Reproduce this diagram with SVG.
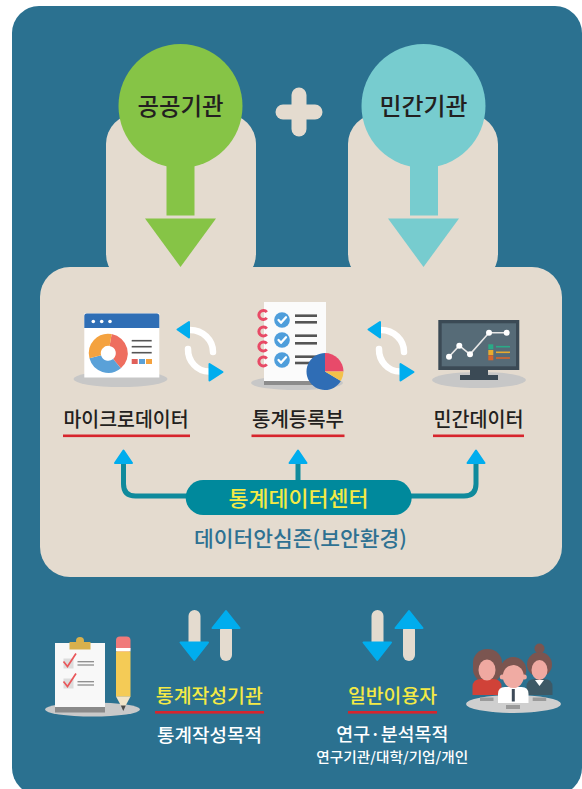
<svg xmlns="http://www.w3.org/2000/svg" width="582" height="789" viewBox="0 0 582 789">
<style>
  text { font-family: "Noto Sans CJK KR", "Noto Sans", sans-serif; font-weight: 500; text-anchor: middle; }
  .title { font-size: 24px; fill: #231f20; }
  .lbl { font-size: 20px; fill: #231f20; }
  .yel { font-size: 19px; fill: #f4ea45; }
  .wht { font-size: 18.5px; fill: #ffffff; }
  .ul { fill: #d7252d; }
  .beige { fill: #e4dbcf; }
  .sky { fill: #00adee; stroke: #00adee; stroke-width: 2; stroke-linejoin: round; }
  .conn { fill: none; stroke: #0f8a9c; stroke-width: 5; }
  .shadow { fill: #c7c7c7; }
  .cycle { fill: none; stroke: #ffffff; stroke-width: 6.5; stroke-linecap: round; }
  .gline { stroke: #555555; stroke-width: 2.6; }
</style>
<defs>
  <!-- two-way refresh arrows between the data sources -->
  <g id="cycle">
    <path class="cycle" d="M190,330 A23,22 0 0 1 213,352"/>
    <path class="cycle" d="M188,349 A21,22 0 0 0 209,371.5"/>
    <path class="sky" d="M177.5,329.5 L189,322 L189,337.5 Z"/>
    <path class="sky" d="M222.5,372 L209.5,364 L209.5,380.5 Z"/>
  </g>
  <!-- down / up exchange arrows -->
  <g id="updown">
    <rect class="beige" x="188.5" y="610" width="12" height="38" rx="6"/>
    <path class="sky" d="M180.5,642.5 L208,642.5 L194.3,660 Z"/>
    <rect class="beige" x="220" y="624" width="12" height="37" rx="6"/>
    <path class="sky" d="M212.5,628 L239.5,628 L226,611 Z"/>
  </g>
</defs>

<!-- frame -->
<rect x="12" y="6" width="570" height="789" rx="27" fill="#2b7190"/>

<!-- beige body -->
<rect class="beige" x="106" y="114" width="150" height="170" rx="30"/>
<rect class="beige" x="348" y="114" width="150" height="170" rx="30"/>
<rect class="beige" x="40" y="267" width="522" height="310" rx="30"/>

<!-- plus -->
<g id="plus" stroke="#e4dbcf" stroke-width="15" stroke-linecap="round">
  <line x1="283" y1="112" x2="315" y2="112"/>
  <line x1="299" y1="95" x2="299" y2="129"/>
</g>

<g id="public">
  <circle cx="180.5" cy="106" r="62" fill="#86c446"/>
  <rect x="166.5" y="160" width="28" height="55.5" fill="#86c446"/>
  <polygon points="145,218.5 216,218.5 180.5,267" fill="#86c446"/>
  <text class="title" x="180.5" y="115" textLength="86" lengthAdjust="spacingAndGlyphs">공공기관</text>
</g>

<g id="private">
  <circle cx="423.5" cy="106" r="62" fill="#77cccf"/>
  <rect x="410" y="160" width="28" height="55.5" fill="#77cccf"/>
  <polygon points="388,218.5 459,218.5 423.5,267" fill="#77cccf"/>
  <text class="title" x="423.5" y="115" textLength="88" lengthAdjust="spacingAndGlyphs">민간기관</text>
</g>

<g id="microdata">
  <ellipse class="shadow" cx="120.5" cy="379" rx="47" ry="8"/>
  <rect x="84.3" y="313.5" width="75" height="64" fill="#ffffff"/>
  <path d="M84.3,328 V316 a2.5,2.5 0 0 1 2.5,-2.5 H156.8 a2.5,2.5 0 0 1 2.5,2.5 V328 Z" fill="#2f6eb5"/>
  <circle cx="93.3" cy="321.5" r="1.8" fill="#fff"/>
  <circle cx="101.7" cy="321.5" r="1.8" fill="#fff"/>
  <circle cx="110" cy="321.5" r="1.8" fill="#fff"/>
  <g fill="none" stroke-width="12">
    <path d="M110.64,340 A13.5,13.5 0 0 1 116.98,363.64" stroke="#ee6e5f"/>
    <path d="M116.98,363.64 A13.5,13.5 0 0 1 95.26,356.79" stroke="#5aa1d8"/>
    <path d="M95.26,356.79 A13.5,13.5 0 0 1 110.64,340" stroke="#f4a23f"/>
  </g>
  <g stroke="#555" stroke-width="1.6">
    <line x1="131.7" y1="340.7" x2="151.7" y2="340.7"/>
    <line x1="131.7" y1="346.7" x2="151.7" y2="346.7"/>
    <line x1="131.7" y1="352.7" x2="151.7" y2="352.7"/>
  </g>
  <rect x="131.7" y="359" width="6" height="5" fill="#e0605a"/>
  <rect x="139" y="359" width="6" height="5" fill="#5aa1d8"/>
  <rect x="146" y="359" width="6" height="5" fill="#f4a23f"/>
  <text class="lbl" x="126" y="427" textLength="125" lengthAdjust="spacingAndGlyphs">마이크로데이터</text>
  <rect class="ul" x="63" y="434.5" width="127" height="2.6"/>
</g>

<g id="registry">
  <ellipse class="shadow" cx="297" cy="383" rx="46" ry="7"/>
  <rect x="264" y="380" width="62" height="5" fill="#8c8c8c"/>
  <rect x="264" y="302" width="62" height="79" fill="#fbfbfb"/>
  <g fill="none" stroke="#e84a66" stroke-width="3">
    <path d="M266.8,312.1 A4.5,4.5 0 1 0 266.8,317.9"/>
    <path d="M266.8,328.6 A4.5,4.5 0 1 0 266.8,334.4"/>
    <path d="M266.8,343.6 A4.5,4.5 0 1 0 266.8,349.4"/>
    <path d="M266.8,358.6 A4.5,4.5 0 1 0 266.8,364.4"/>
  </g>
  <g fill="#4f9edb">
    <circle cx="282" cy="320" r="7.8"/>
    <circle cx="282" cy="340" r="7.8"/>
    <circle cx="282" cy="360" r="7.8"/>
  </g>
  <g fill="none" stroke="#fff" stroke-width="2.3" stroke-linecap="round" stroke-linejoin="round">
    <polyline points="278.5,320 281,322.8 286,317.3"/>
    <polyline points="278.5,340 281,342.8 286,337.3"/>
    <polyline points="278.5,360 281,362.8 286,357.3"/>
  </g>
  <g class="gline">
    <line x1="295" y1="315.7" x2="317" y2="315.7"/>
    <line x1="295" y1="322.3" x2="317" y2="322.3"/>
    <line x1="295" y1="335.7" x2="317" y2="335.7"/>
    <line x1="295" y1="343.3" x2="317" y2="343.3"/>
    <line x1="295" y1="356.7" x2="317" y2="356.7"/>
    <line x1="295" y1="363" x2="317" y2="363"/>
  </g>
  <path d="M325,371.5 L340.86,381.03 A18.5,18.5 0 1 1 325,353 Z" fill="#2f6db5"/>
  <path d="M325,371.5 L325,353 A18.5,18.5 0 0 1 343.5,371.5 Z" fill="#e84a6a"/>
  <path d="M325,371.5 L343.5,371.5 A18.5,18.5 0 0 1 340.86,381.03 Z" fill="#f3c14b"/>
  <text class="lbl" x="298" y="427" textLength="92" lengthAdjust="spacingAndGlyphs">통계등록부</text>
  <rect class="ul" x="251.5" y="434.5" width="93" height="2.6"/>
</g>

<g id="privatedata">
  <ellipse class="shadow" cx="479" cy="380" rx="47" ry="8"/>
  <rect x="460" y="375" width="38" height="5" fill="#3b4a55"/>
  <rect x="470" y="369" width="18" height="7" fill="#3b4a55"/>
  <rect x="438.3" y="320" width="81" height="50" fill="#3b4a55"/>
  <rect x="441.7" y="323.3" width="74.3" height="43" fill="#566b77"/>
  <polyline points="449,356.7 459.3,345.7 470,354.3 489,332.7 506.7,332.7" fill="none" stroke="#e6e6e6" stroke-width="1.6"/>
  <g fill="#ffffff">
    <circle cx="449" cy="356.7" r="3"/>
    <circle cx="459.3" cy="345.7" r="3"/>
    <circle cx="470" cy="354.3" r="3"/>
    <circle cx="489" cy="332.7" r="3"/>
    <circle cx="506.7" cy="332.7" r="3"/>
  </g>
  <rect x="488.3" y="344.3" width="5" height="5" fill="#2baa87"/>
  <rect x="488.3" y="350" width="5" height="5" fill="#e8ab2e"/>
  <rect x="488.3" y="355.3" width="5" height="5" fill="#d8652b"/>
  <line x1="496" y1="346.7" x2="510" y2="346.7" stroke="#2baa87" stroke-width="1.6"/>
  <line x1="496" y1="352.3" x2="510" y2="352.3" stroke="#e8ab2e" stroke-width="1.6"/>
  <line x1="496" y1="358" x2="510" y2="358" stroke="#d8652b" stroke-width="1.6"/>
  <text class="lbl" x="478.5" y="427" textLength="90" lengthAdjust="spacingAndGlyphs">민간데이터</text>
  <rect class="ul" x="433" y="434.5" width="91" height="2.6"/>
</g>

<g id="connectors">
  <use href="#cycle"/>
  <use href="#cycle" x="191"/>
  <path class="conn" d="M123.5,462 V484 Q123.5,496 135.5,496 H192"/>
  <path class="conn" d="M476,462 V484 Q476,496 464,496 H406"/>
  <path class="conn" d="M298,462 V484"/>
  <path class="sky" d="M115,463 L132,463 L123.5,450.5 Z"/>
  <path class="sky" d="M289.5,463 L306.5,463 L298,450.5 Z"/>
  <path class="sky" d="M467.5,463 L484.5,463 L476,450.5 Z"/>
  <use href="#updown"/>
  <use href="#updown" x="183"/>
</g>

<g id="datacenter">
  <rect x="185.7" y="480" width="226" height="35" rx="17.5" fill="#00899c"/>
  <text x="298.5" y="506" font-size="21" fill="#f4ea45" textLength="140" lengthAdjust="spacingAndGlyphs">통계데이터센터</text>
  <text x="300.5" y="546" font-size="21" fill="#2e7192" textLength="213" lengthAdjust="spacingAndGlyphs">데이터안심존(보안환경)</text>
</g>

<g id="producers">
  <ellipse cx="92.5" cy="709.5" rx="47.5" ry="7" fill="#c9c9c9"/>
  <rect x="55" y="706" width="50" height="6.5" fill="#8a8a8a"/>
  <rect x="55" y="643" width="50" height="64" fill="#f8f8f8"/>
  <circle cx="80" cy="641" r="4" fill="#d8b04c"/>
  <rect x="69.5" y="642" width="21" height="7.5" fill="#d8b04c"/>
  <rect x="63.5" y="658.5" width="10" height="10" fill="#dcdcdc"/>
  <rect x="63.5" y="678.5" width="10" height="10" fill="#dcdcdc"/>
  <g fill="none" stroke="#e9575a" stroke-width="1.7">
    <polyline points="63.5,661.5 67.5,666.5 76,653.5"/>
    <polyline points="63.5,681.5 67.5,686.5 76,673.5"/>
  </g>
  <g stroke="#8c8c8c" stroke-width="1.3">
    <line x1="77.5" y1="661.7" x2="94" y2="661.7"/>
    <line x1="77.5" y1="665" x2="94" y2="665"/>
    <line x1="77.5" y1="681.7" x2="94" y2="681.7"/>
    <line x1="77.5" y1="685" x2="94" y2="685"/>
  </g>
  <rect x="116" y="636.5" width="14.5" height="16" rx="4" fill="#f07a7a"/>
  <rect x="116" y="648" width="14.5" height="3.5" fill="#ffffff"/>
  <rect x="116" y="651.5" width="14.5" height="45.2" fill="#f4cb56"/>
  <polygon points="116,696.5 130.5,696.5 123.3,710" fill="#f1e4c8"/>
  <polygon points="120.8,705.5 125.8,705.5 123.3,711" fill="#4a4a4a"/>
  <text class="yel" x="209.3" y="703" textLength="107" lengthAdjust="spacingAndGlyphs">통계작성기관</text>
  <rect class="ul" x="155" y="711" width="109" height="2.6"/>
  <text class="wht" x="209.4" y="741.5" textLength="105" lengthAdjust="spacingAndGlyphs">통계작성목적</text>
</g>

<g id="users">
  <!-- left woman -->
  <rect x="473" y="649" width="29" height="34" rx="14" fill="#7b5550"/>
  <path d="M472.5,695 V687 Q472.5,679 481,679 H493 Q501.5,679 501.5,687 V695 Z" fill="#d04238"/>
  <ellipse cx="487" cy="670" rx="8.5" ry="10.5" fill="#efa9a1"/>
  <!-- right woman -->
  <circle cx="539.5" cy="648.5" r="5" fill="#7b5550"/>
  <circle cx="539.5" cy="664.5" r="12.5" fill="#7b5550"/>
  <path d="M526.5,695 V687 Q526.5,679 535,679 H544 Q552.5,679 552.5,687 V695 Z" fill="#3d5966"/>
  <polygon points="535,680 544,680 539.5,686" fill="#ffffff"/>
  <ellipse cx="539.5" cy="670" rx="8" ry="10" fill="#efa9a1"/>
  <!-- table -->
  <ellipse cx="513.5" cy="704" rx="47.5" ry="9" fill="#cfcfcf"/>
  <rect x="480" y="697.5" width="13.5" height="3.5" fill="#9a9a9a"/>
  <rect x="532.7" y="697.5" width="13.5" height="3.5" fill="#9a9a9a"/>
  <!-- man -->
  <circle cx="513.3" cy="670" r="13" fill="#7b5550"/>
  <path d="M498,703 V694 Q498,687 505,687 H521.5 Q528.5,687 528.5,694 V703 Z" fill="#ffffff"/>
  <rect x="511.8" y="689" width="3" height="12.5" fill="#3d4a58"/>
  <circle cx="502.3" cy="677" r="2.5" fill="#efa9a1"/>
  <circle cx="524.3" cy="677" r="2.5" fill="#efa9a1"/>
  <ellipse cx="513.3" cy="676.5" rx="10.5" ry="11.5" fill="#f0aba3"/>
  <path d="M501,672 Q503,658 513.3,658 Q524,658 525.8,672 Q520,664 513.3,665 Q506,665 501,672 Z" fill="#7b5550"/>
  <rect x="506" y="705" width="14" height="4" fill="#9a9a9a"/>
  <text class="yel" x="392.5" y="703" textLength="89" lengthAdjust="spacingAndGlyphs">일반이용자</text>
  <rect class="ul" x="348" y="711" width="89" height="2.6"/>
  <text class="wht" x="392.3" y="741" textLength="112" lengthAdjust="spacingAndGlyphs">연구·분석목적</text>
  <text x="392.3" y="762" font-size="14" fill="#ffffff" textLength="152" lengthAdjust="spacingAndGlyphs">연구기관/대학/기업/개인</text>
</g>
</svg>
